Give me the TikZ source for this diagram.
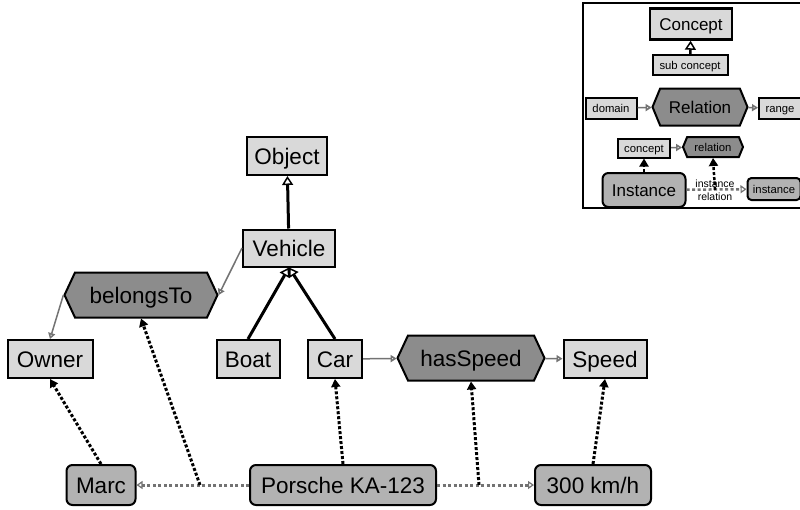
\documentclass[tikz,border=0pt]{standalone}
\usepackage{fontspec}
\setmainfont{Liberation Sans}
\usetikzlibrary{arrows.meta,shapes.symbols}
\definecolor{boxgray}{gray}{0.85}
\definecolor{relgray}{gray}{0.55}
\definecolor{instgray}{gray}{0.70}
\definecolor{linkgray}{gray}{0.45}
\tikzset{big/.style = {font=\fontsize{22.5}{26}\selectfont, text height=16pt, text depth=0pt},
  mid/.style = {font=\fontsize{17}{20}\selectfont, text height=12.2pt, text depth=0pt},
  small/.style = {font=\fontsize{11.3}{13}\selectfont, text height=8.1pt, text depth=0pt},
  box/.style = {draw, line width=2pt, inner sep=0pt},
  concept/.style = {box, fill=boxgray},
  relation/.style = {box, fill=relgray, signal, signal to=west and east, signal pointer angle=130},
  inst/.style = {box, fill=instgray, rounded corners=6pt},
  isa/.style = {line width=3pt, -{Triangle[open, length=9pt, width=11pt, line width=1.5pt]}},
  rel/.style = {draw=linkgray, line width=1.5pt, -{Triangle[open, length=6pt, width=7pt]}},
  typeof/.style = {line width=3pt, dash pattern=on 3pt off 2pt, -{Triangle[length=8pt, width=9pt]}},
  link/.style = {draw=linkgray, line width=3pt, dash pattern=on 3pt off 2.5pt,
    -{Triangle[open, length=6pt, width=8pt, line width=1.2pt]}}}
\begin{document}
\begin{tikzpicture}[x=1pt, y=-1pt]
  \useasboundingbox[fill=white] (0,0) rectangle (800,509);
  % legend
  \draw[line width=2pt] (583,3) rectangle (803,208);
  \node[concept, mid, line width=2.5pt, minimum width=82pt, minimum height=31pt] (lconcept) at (691,24) {Concept};
  \node[concept, small, minimum width=75pt, minimum height=20pt] (lsub) at (690,65) {sub concept};
  \node[concept, small, minimum width=51pt, minimum height=21pt] (ldomain) at (611,108) {domain};
  \node[relation, mid, signal pointer angle=135, minimum width=95pt, minimum height=37pt] (lrelation) at (700,107) {Relation};
  \node[concept, small, minimum width=42pt, minimum height=21pt] (lrange) at (780,108) {range};
  \node[concept, small, minimum width=52pt, minimum height=19pt] (lconceptb) at (644,148) {concept};
  \node[relation, small, signal pointer angle=135, minimum width=60pt, minimum height=20pt] (lrelationb) at (713,147) {relation};
  \node[inst, mid, minimum width=83pt, minimum height=34pt] (linstance) at (644,190) {Instance};
  \node[inst, small, rounded corners=4pt, minimum width=53pt, minimum height=22pt] (linstanceb) at (774,189) {instance};
  \draw[isa, line width=2.5pt] (lsub) -- (lconcept);
  \draw[rel] (ldomain) -- (lrelation);
  \draw[rel] (lrelation) -- (lrange);
  \draw[rel] (lconceptb) -- (lrelationb);
  \draw[typeof, line width=2.5pt] (linstance) -- (lconceptb);
  \draw[link, line width=2.5pt] (linstance) -- (linstanceb);
  \coordinate (lj) at (715,190);
  \draw[typeof, line width=2.5pt] (lj) -- (lrelationb.south);
  \node[font=\fontsize{10.5}{12.5}\selectfont, align=center, inner sep=0pt] at (lj) {instance\\relation};
  % concepts and relations
  \node[concept, big, minimum width=80pt, minimum height=38pt] (object) at (287,156) {Object};
  \node[concept, big, minimum width=92pt, minimum height=37pt] (vehicle) at (289,248) {Vehicle};
  \node[relation, big, minimum width=153pt, minimum height=45pt] (belongs) at (141,295) {belongsTo};
  \node[concept, big, minimum width=85pt, minimum height=38pt] (owner) at (50,359) {Owner};
  \node[concept, big, minimum width=63pt, minimum height=38pt] (boat) at (248,359) {Boat};
  \node[concept, big, minimum width=54pt, minimum height=38pt] (car) at (335,359) {Car};
  \node[relation, big, minimum width=147pt, minimum height=45pt] (hasspeed) at (471,358) {hasSpeed};
  \node[concept, big, minimum width=83pt, minimum height=38pt] (speed) at (605,359) {Speed};
  % instances
  \node[inst, big, minimum width=69pt, minimum height=40pt] (marc) at (101,485) {Marc};
  \node[inst, big, minimum width=186pt, minimum height=40pt] (porsche) at (343,485) {Porsche KA-123};
  \node[inst, big, minimum width=116pt, minimum height=40pt] (kmh) at (593,485) {300 km/h};
  \draw[isa] (vehicle) -- (object);
  \draw[isa] (boat.north) -- (vehicle.south);
  \draw[isa] (car.north) -- (vehicle.south);
  \draw[rel] (vehicle.west) -- (belongs.east);
  \draw[rel] (belongs.west) -- (owner.north);
  \draw[rel] (car) -- (hasspeed);
  \draw[rel] (hasspeed) -- (speed);
  \draw[link] (porsche) -- (marc);
  \draw[link] (porsche) -- (kmh);
  \coordinate (j1) at (200,485);
  \coordinate (j2) at (479,485);
  \draw[typeof] (j1) -- (belongs.south);
  \draw[typeof] (j2) -- (hasspeed.south);
  \draw[typeof] (marc.north) -- (owner.south);
  \draw[typeof] (porsche.north) -- (car.south);
  \draw[typeof] (kmh.north) -- (speed.south);
\end{tikzpicture}
\end{document}
